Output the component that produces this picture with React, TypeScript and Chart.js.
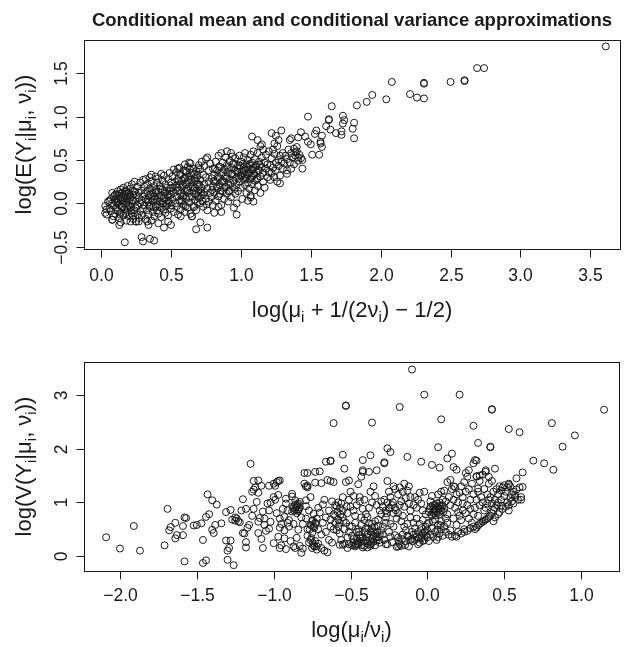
import { useEffect, useRef } from 'react';
import { Chart, registerables } from 'chart.js';

Chart.register(...registerables);

const FONT = '"Liberation Sans", Arial, Helvetica, sans-serif';
const INK = '#1a1a1a';

const TITLE = 'Conditional mean and conditional variance approximations';

const TOP_X_TICKS = [0, 0.5, 1, 1.5, 2, 2.5, 3, 3.5];
const TOP_X_LABELS = ['0.0', '0.5', '1.0', '1.5', '2.0', '2.5', '3.0', '3.5'];
const TOP_Y_TICKS = [-0.5, 0, 0.5, 1, 1.5];
const TOP_Y_LABELS = ['\u22120.5', '0.0', '0.5', '1.0', '1.5'];
const BOT_X_TICKS = [-2, -1.5, -1, -0.5, 0, 0.5, 1];
const BOT_X_LABELS = ['\u22122.0', '\u22121.5', '\u22121.0', '\u22120.5', '0.0', '0.5', '1.0'];
const BOT_Y_TICKS = [0, 1, 2, 3];
const BOT_Y_LABELS = ['0', '1', '2', '3'];

type Seg = [string, boolean?];
const TOP_X_TITLE: Seg[] = [['log(\u03bc'], ['i', true], [' + 1/(2\u03bd'], ['i', true], [') \u2212 1/2)']];
const TOP_Y_TITLE: Seg[] = [['log(E(Y'], ['i', true], ['|\u03bc'], ['i', true], [', \u03bd'], ['i', true], ['))']];
const BOT_X_TITLE: Seg[] = [['log(\u03bc'], ['i', true], ['/\u03bd'], ['i', true], [')']];
const BOT_Y_TITLE: Seg[] = [['log(V(Y'], ['i', true], ['|\u03bc'], ['i', true], [', \u03bd'], ['i', true], ['))']];

// ---------- top panel data: [log(mu + 1/(2nu) - 1/2), log E(Y|mu,nu)] ----------
const TOP_SPARSE: [number, number][] = [
  [3.61, 1.81], [2.69, 1.56], [2.74, 1.56], [2.50, 1.40], [2.60, 1.42], [2.60, 1.41], [2.31, 1.39], [2.31, 1.38],
  [2.08, 1.40], [2.21, 1.26], [2.26, 1.22], [2.31, 1.21], [2.04, 1.20], [1.94, 1.25], [1.90, 1.17], [1.83, 1.13],
  [1.65, 1.12], [1.48, 1.00], [1.63, 0.97], [1.63, 0.96], [1.73, 1.01], [1.74, 0.96], [1.73, 0.92], [1.81, 0.93],
  [1.80, 0.86], [1.81, 0.75], [1.72, 0.79], [1.72, 0.83], [1.68, 0.81], [1.64, 0.85], [1.61, 0.89], [1.54, 0.84],
  [1.53, 0.80], [1.58, 0.78], [1.57, 0.69], [1.58, 0.65], [1.57, 0.71], [1.51, 0.56], [1.56, 0.56], [1.48, 0.71],
  [1.50, 0.68], [1.46, 0.77], [1.43, 0.82], [1.41, 0.76], [1.36, 0.75], [1.35, 0.73], [1.29, 0.84], [1.25, 0.78],
  [1.22, 0.81], [1.24, 0.69], [1.27, 0.73], [1.08, 0.77], [1.12, 0.73], [1.44, 0.40], [1.44, 0.50], [1.41, 0.53],
  [1.40, 0.65], [1.39, 0.59], [1.28, 0.23], [1.33, 0.34], [1.30, 0.40], [1.09, 0.02], [1.07, 0.07], [0.97, -0.13],
  [0.76, -0.28], [0.68, -0.30], [0.71, -0.22], [0.81, -0.11], [0.86, -0.10], [0.84, -0.04], [0.17, -0.45],
  [0.29, -0.39], [0.30, -0.44], [0.35, -0.41], [0.38, -0.43], [0.13, -0.25], [0.08, -0.19], [0.45, -0.28],
  [0.50, -0.25], [0.48, -0.21], [0.21, -0.21], [0.25, -0.21], [0.27, -0.21], [0.34, -0.25], [0.41, -0.23],
  [0.57, -0.15], [0.65, -0.15],
];

const TOP_LOW: [number, number][] = [
  [0.03, -0.03], [0.03, -0.11], [0.04, -0.13], [0.05, 0.02], [0.06, -0.06], [0.07, 0.05], [0.07, -0.09], [0.08, -0.19],
  [0.08, 0.00], [0.09, 0.08], [0.09, -0.03], [0.10, 0.04], [0.10, -0.12], [0.10, 0.10], [0.06, 0.03], [0.04, -0.07],
  [0.09, -0.15], [0.08, 0.12],
  [0.11, -0.05], [0.11, 0.06], [0.12, 0.14], [0.12, -0.09], [0.12, 0.01], [0.13, -0.17], [0.13, 0.09], [0.13, -0.02],
  [0.14, 0.16], [0.14, 0.04], [0.14, -0.11], [0.15, 0.12], [0.15, -0.04], [0.15, 0.07], [0.16, -0.14], [0.16, 0.18],
  [0.16, 0.00], [0.17, 0.10], [0.17, -0.07], [0.17, 0.05], [0.18, -0.20], [0.18, 0.14], [0.18, -0.01], [0.19, 0.08],
  [0.19, -0.10], [0.19, 0.20], [0.20, 0.03], [0.20, -0.15], [0.20, 0.12], [0.14, -0.22],
  [0.21, -0.05], [0.21, 0.17], [0.21, 0.07], [0.22, -0.12], [0.22, 0.00], [0.22, 0.22], [0.23, 0.10], [0.23, -0.18],
  [0.23, 0.04], [0.24, -0.08], [0.24, 0.14], [0.25, 0.02], [0.25, -0.21], [0.25, 0.09], [0.26, -0.03], [0.26, 0.19],
  [0.26, -0.13], [0.27, 0.06], [0.27, 0.12], [0.27, -0.17], [0.28, 0.00], [0.28, 0.24], [0.28, -0.09], [0.29, 0.15],
  [0.29, 0.03], [0.29, -0.14], [0.30, 0.08], [0.30, 0.27], [0.30, -0.06], [0.24, 0.25],
  [0.31, 0.19], [0.31, -0.02], [0.31, 0.11], [0.32, -0.18], [0.32, 0.05], [0.32, 0.28], [0.33, -0.08], [0.33, 0.14],
  [0.33, 0.22], [0.34, 0.01], [0.34, -0.13], [0.34, 0.09], [0.35, 0.30], [0.35, -0.04], [0.35, 0.17], [0.36, 0.06],
  [0.36, -0.20], [0.36, 0.25], [0.37, -0.10], [0.37, 0.12], [0.37, 0.02], [0.38, 0.20], [0.38, -0.15], [0.38, 0.08],
  [0.39, 0.31], [0.39, -0.03], [0.39, 0.15], [0.40, 0.04], [0.40, 0.24], [0.40, -0.08], [0.36, 0.33], [0.33, -0.21],
  [0.41, 0.13], [0.41, -0.12], [0.41, 0.29], [0.42, 0.02], [0.42, 0.20], [0.42, -0.04], [0.43, 0.34], [0.43, 0.09],
  [0.43, -0.16], [0.44, 0.16], [0.44, 0.00], [0.44, 0.26], [0.45, -0.07], [0.45, 0.06], [0.45, 0.32], [0.46, 0.12],
  [0.46, -0.11], [0.46, 0.22], [0.47, 0.03], [0.47, 0.18], [0.47, -0.02], [0.48, 0.28], [0.48, 0.08], [0.48, -0.14],
  [0.49, 0.35], [0.49, 0.14], [0.49, 0.00], [0.50, 0.24], [0.50, -0.06], [0.50, 0.10],
];

const TOP_MID: [number, number][] = [
  [0.51, 0.31], [0.51, 0.05], [0.51, 0.18], [0.52, -0.10], [0.52, 0.39], [0.52, 0.12], [0.53, 0.25], [0.53, 0.00],
  [0.53, 0.20], [0.54, 0.36], [0.54, -0.04], [0.54, 0.08], [0.55, 0.28], [0.55, 0.15], [0.55, -0.13], [0.56, 0.41],
  [0.56, 0.03], [0.56, 0.22], [0.57, 0.11], [0.57, 0.33], [0.57, -0.07], [0.58, 0.18], [0.58, 0.26], [0.58, 0.02],
  [0.59, 0.38], [0.59, 0.09], [0.59, -0.02], [0.60, 0.30], [0.60, 0.14], [0.60, 0.45], [0.60, -0.10], [0.55, 0.40],
  [0.61, 0.22], [0.61, 0.05], [0.61, 0.36], [0.62, -0.05], [0.62, 0.27], [0.62, 0.42], [0.63, 0.12], [0.63, 0.31],
  [0.63, 0.01], [0.64, 0.19], [0.64, 0.46], [0.64, -0.12], [0.65, 0.08], [0.65, 0.35], [0.65, 0.24], [0.66, 0.15],
  [0.66, -0.03], [0.66, 0.40], [0.67, 0.29], [0.67, 0.04], [0.67, 0.18], [0.68, 0.11], [0.68, 0.37], [0.68, -0.08],
  [0.69, 0.22], [0.69, 0.01], [0.69, 0.32], [0.70, 0.14], [0.70, 0.44], [0.70, 0.06], [0.65, -0.15], [0.63, 0.47],
  [0.68, 0.26], [0.62, 0.15],
  [0.71, 0.27], [0.71, 0.00], [0.71, 0.39], [0.72, 0.18], [0.72, 0.09], [0.72, 0.48], [0.73, 0.33], [0.73, -0.04],
  [0.74, 0.22], [0.74, 0.13], [0.74, 0.43], [0.75, 0.05], [0.75, 0.30], [0.75, 0.51], [0.76, 0.17], [0.76, -0.08],
  [0.77, 0.38], [0.77, 0.25], [0.77, 0.02], [0.78, 0.12], [0.78, 0.46], [0.79, 0.29], [0.79, 0.07], [0.80, 0.20],
  [0.80, 0.40], [0.80, -0.02], [0.76, 0.53], [0.73, 0.10],
  [0.81, 0.33], [0.81, 0.12], [0.82, 0.48], [0.82, 0.25], [0.82, 0.03], [0.83, 0.38], [0.83, 0.17], [0.84, 0.55],
  [0.84, 0.29], [0.84, 0.08], [0.85, 0.42], [0.85, 0.21], [0.86, -0.02], [0.86, 0.34], [0.86, 0.58], [0.87, 0.14],
  [0.87, 0.47], [0.87, 0.26], [0.88, 0.05], [0.88, 0.39], [0.89, 0.19], [0.89, 0.53], [0.89, 0.31], [0.90, 0.11],
  [0.90, 0.44], [0.90, 0.60], [0.85, 0.11], [0.88, 0.24],
];

const TOP_HIGH: [number, number][] = [
  [0.91, 0.36], [0.91, 0.22], [0.91, 0.02], [0.92, 0.49], [0.92, 0.28], [0.92, 0.15], [0.93, 0.58], [0.93, 0.41],
  [0.93, 0.07], [0.94, 0.33], [0.94, 0.19], [0.95, 0.46], [0.95, -0.05], [0.95, 0.26], [0.96, 0.38], [0.96, 0.11],
  [0.96, 0.52], [0.97, 0.30], [0.97, 0.21], [0.97, 0.00], [0.98, 0.44], [0.98, 0.35], [0.98, 0.14], [0.99, 0.25],
  [0.99, 0.55], [0.99, 0.40], [1.00, 0.32], [1.00, 0.18], [1.00, 0.48], [0.94, 0.54],
  [1.01, 0.05], [1.01, 0.37], [1.02, 0.27], [1.02, 0.53], [1.02, 0.42], [1.03, 0.21], [1.03, 0.33], [1.03, 0.58],
  [1.04, 0.12], [1.04, 0.45], [1.04, 0.30], [1.05, 0.39], [1.05, 0.24], [1.05, 0.50], [1.06, 0.17], [1.06, 0.35],
  [1.06, 0.44], [1.07, 0.28], [1.07, 0.56], [1.07, 0.09], [1.08, 0.38], [1.08, 0.47], [1.08, 0.22], [1.09, 0.32],
  [1.09, 0.60], [1.09, 0.41], [1.10, 0.26], [1.10, 0.51], [1.10, 0.15], [1.05, 0.03],
  [1.11, 0.36], [1.11, 0.44], [1.12, 0.29], [1.12, 0.58], [1.12, 0.20], [1.13, 0.48], [1.13, 0.38], [1.14, 0.66],
  [1.14, 0.31], [1.14, 0.12], [1.15, 0.53], [1.15, 0.42], [1.16, 0.25], [1.16, 0.62], [1.16, 0.35], [1.17, 0.47],
  [1.17, 0.18], [1.18, 0.40], [1.18, 0.56], [1.19, 0.30], [1.19, 0.45], [1.20, 0.36], [1.20, 0.60], [1.15, 0.68],
  [1.21, 0.44], [1.21, 0.27], [1.22, 0.52], [1.22, 0.35], [1.23, 0.62], [1.23, 0.41], [1.24, 0.30], [1.24, 0.57],
  [1.25, 0.47], [1.25, 0.38], [1.26, 0.66], [1.26, 0.25], [1.27, 0.50], [1.27, 0.43], [1.28, 0.55], [1.28, 0.32],
  [1.29, 0.48], [1.30, 0.58],
  [1.31, 0.46], [1.32, 0.55], [1.33, 0.51], [1.34, 0.62], [1.35, 0.47], [1.36, 0.58], [1.37, 0.53], [1.38, 0.63],
  [1.38, 0.45], [1.39, 0.55], [1.40, 0.60], [1.41, 0.49], [1.42, 0.56], [1.43, 0.52], [1.36, 0.40], [1.33, 0.38],
];

const TOP_CORE: [number, number][] = [
  [0.105, 0.015], [0.115, -0.075], [0.125, 0.045], [0.135, 0.115], [0.145, -0.035], [0.155, 0.025], [0.165, 0.085],
  [0.175, -0.115], [0.185, 0.055], [0.195, -0.025], [0.205, 0.095], [0.215, -0.085], [0.225, 0.035], [0.235, 0.135],
  [0.245, -0.045], [0.112, 0.105], [0.132, -0.125], [0.172, 0.145], [0.228, -0.145], [0.188, -0.055],
  [0.335, 0.035], [0.345, -0.025], [0.355, 0.105], [0.365, 0.155], [0.375, -0.045], [0.385, 0.045], [0.395, 0.125],
  [0.405, -0.015], [0.415, 0.075], [0.425, 0.165], [0.435, -0.055], [0.445, 0.055], [0.455, 0.135], [0.465, -0.035],
  [0.475, 0.095], [0.485, 0.025], [0.495, 0.175], [0.505, -0.025], [0.515, 0.145],
  [0.545, 0.185], [0.555, 0.255], [0.565, 0.335], [0.575, 0.125], [0.585, 0.215], [0.595, 0.285], [0.605, 0.375],
  [0.615, 0.165], [0.625, 0.245], [0.635, 0.395], [0.645, 0.275], [0.655, 0.195], [0.665, 0.335], [0.675, 0.105],
  [0.685, 0.295], [0.695, 0.405], [0.705, 0.215], [0.575, 0.035], [0.605, -0.035], [0.635, 0.065], [0.665, -0.045],
  [0.695, 0.085], [0.725, 0.025], [0.755, -0.015], [0.585, 0.075], [0.715, 0.125],
  [0.795, 0.155], [0.805, 0.255], [0.815, 0.395], [0.825, 0.195], [0.835, 0.305], [0.845, 0.425], [0.855, 0.145],
  [0.865, 0.255], [0.875, 0.355], [0.885, 0.185], [0.895, 0.285], [0.905, 0.405], [0.915, 0.135], [0.925, 0.235],
  [0.935, 0.345], [0.945, 0.455], [0.955, 0.165],
  [0.975, 0.365], [0.985, 0.285], [0.995, 0.435], [1.005, 0.325], [1.015, 0.455], [1.025, 0.375], [1.035, 0.285],
  [1.045, 0.415], [1.055, 0.335], [1.065, 0.455], [1.075, 0.305], [1.085, 0.395], [1.095, 0.345], [1.105, 0.425],
  [1.115, 0.275], [1.125, 0.385], [1.135, 0.445],
];

// ---------- bottom panel data: [log(mu/nu), log V(Y|mu,nu)] ----------
const BOT_LEFT: [number, number][] = [
  [-2.09, 0.35], [-2.00, 0.14], [-1.87, 0.10], [-1.91, 0.56], [-1.71, 0.20], [-1.69, 0.88], [-1.68, 0.48],
  [-1.67, 0.54], [-1.64, 0.33], [-1.64, 0.62], [-1.63, 0.39], [-1.58, 0.72], [-1.57, 0.71], [-1.59, 0.56],
  [-1.59, 0.39], [-1.58, -0.10], [-1.50, 0.58], [-1.52, 0.57], [-1.46, 0.30], [-1.46, -0.13], [-1.44, -0.08],
  [-1.47, 0.61], [-1.44, 0.73], [-1.42, 0.78], [-1.43, 1.15], [-1.40, 1.04], [-1.37, 0.96], [-1.40, 0.49],
  [-1.39, 0.43], [-1.38, 0.58], [-1.34, 0.61], [-1.31, 0.29], [-1.30, 0.10], [-1.30, -0.07], [-1.28, 0.29],
  [-1.29, 0.15], [-1.26, -0.17], [-1.28, 0.86], [-1.31, 0.82], [-1.25, 0.72], [-1.25, 0.66], [-1.22, 0.63],
  [-1.23, 0.65], [-1.21, 0.85], [-1.20, 1.06], [-1.20, 0.43], [-1.18, 0.26], [-1.18, 0.16], [-1.16, 0.58],
  [-1.18, 0.88], [-1.11, 1.01], [-1.12, 1.28], [-1.10, 1.18], [-1.10, 0.64], [-1.09, 0.71], [-1.10, 0.43],
  [-1.08, 0.32], [-1.07, 0.15], [-1.05, 0.47], [-1.03, 0.51], [-1.04, 0.98], [-1.03, 0.85], [-1.02, 0.64],
  [-1.10, 1.41], [-1.15, 1.72], [-1.13, 1.24], [-1.06, 0.58], [-1.27, 0.68], [-1.24, 0.70], [-1.19, 0.42],
  [-1.17, 0.53], [-1.14, 0.75], [-1.13, 0.88], [-1.14, 1.20], [-1.13, 1.40], [-1.08, 1.31], [-1.07, 0.83],
  [-1.06, 0.70], [-1.02, 1.00], [-1.00, 1.35],
];

const BOT_MIDLEFT: [number, number][] = [
  [-0.99, 1.31], [-0.98, 1.38], [-0.97, 1.40], [-1.00, 1.10], [-0.99, 1.05], [-0.97, 1.14], [-0.96, 0.70],
  [-0.96, 0.53], [-0.97, 0.36], [-0.93, 0.73], [-0.93, 0.48], [-0.93, 0.33], [-0.95, 0.20], [-0.96, 0.15],
  [-1.00, 0.24], [-0.92, 0.98], [-0.92, 1.07], [-0.91, 0.62], [-0.94, 0.88], [-0.92, 0.13], [-0.95, 0.60],
  [-0.91, 0.85], [-0.98, 0.80],
  [-0.90, 0.67], [-0.90, 0.55], [-0.88, 0.83], [-0.86, 0.87], [-0.88, 1.16], [-0.86, 1.04], [-0.87, 0.90],
  [-0.85, 0.93], [-0.84, 0.86], [-0.83, 0.91], [-0.86, 0.96], [-0.84, 0.84], [-0.83, 1.01], [-0.88, 1.11],
  [-0.85, 0.34], [-0.84, 0.49], [-0.87, 0.18], [-0.86, 0.15], [-0.83, 0.19], [-0.82, 0.72], [-0.81, 0.60],
  [-0.89, 0.28], [-0.85, 0.80], [-0.82, 0.06], [-0.81, 0.14], [-0.84, 0.98], [-0.87, 0.60],
  [-0.80, 1.55], [-0.80, 1.35], [-0.79, 1.30], [-0.78, 1.31], [-0.78, 1.28], [-0.79, 1.04], [-0.79, 0.93],
  [-0.78, 0.50], [-0.78, 0.38], [-0.77, 0.25], [-0.76, 0.30], [-0.76, 0.58], [-0.75, 0.65], [-0.74, 0.55],
  [-0.74, 0.79], [-0.73, 0.62], [-0.72, 0.70], [-0.75, 0.15], [-0.74, 0.20], [-0.73, 0.28], [-0.72, 0.12],
  [-0.71, 0.90], [-0.73, 1.37], [-0.73, 1.57], [-0.77, 0.85], [-0.71, 0.23], [-0.75, 0.43], [-0.79, 0.70],
  [-0.72, 0.18], [-0.70, 0.81], [-0.76, 1.10], [-0.71, 0.50],
  [-0.69, 1.36], [-0.70, 1.58], [-0.66, 1.76], [-0.65, 1.42], [-0.68, 0.96], [-0.66, 0.72], [-0.63, 0.55],
  [-0.67, 0.10], [-0.65, 0.07], [-0.69, 0.15], [-0.68, 0.62], [-0.66, 0.45], [-0.64, 0.85], [-0.62, 1.02],
  [-0.61, 0.78], [-0.60, 0.62], [-0.64, 0.30], [-0.62, 0.25], [-0.61, 1.38], [-0.60, 0.95], [-0.67, 1.05],
  [-0.63, 0.68], [-0.69, 0.40], [-0.61, 0.50],
];

const BOT_MID: [number, number][] = [
  [-0.59, 0.93], [-0.58, 1.00], [-0.57, 0.90], [-0.56, 0.98], [-0.55, 0.85], [-0.60, 0.75], [-0.58, 0.68],
  [-0.57, 0.62], [-0.55, 0.72], [-0.59, 0.48], [-0.57, 0.42], [-0.54, 0.50], [-0.54, 0.23], [-0.51, 0.22],
  [-0.52, 0.35], [-0.53, 0.62], [-0.51, 1.05], [-0.52, 0.80], [-0.50, 0.92], [-0.50, 1.20], [-0.55, 1.10],
  [-0.56, 0.30], [-0.53, 1.38], [-0.52, 0.15], [-0.58, 0.55], [-0.51, 0.45], [-0.57, 0.21], [-0.55, 0.21],
  [-0.49, 0.20], [-0.48, 0.25], [-0.47, 0.18], [-0.46, 0.33], [-0.45, 0.22], [-0.44, 0.40], [-0.43, 0.28],
  [-0.42, 0.35], [-0.41, 0.19], [-0.49, 0.55], [-0.47, 0.62], [-0.45, 0.50], [-0.43, 0.58], [-0.41, 0.67],
  [-0.48, 0.85], [-0.46, 0.95], [-0.44, 1.02], [-0.42, 0.88], [-0.40, 0.78], [-0.45, 1.34], [-0.44, 1.10],
  [-0.41, 1.05], [-0.48, 1.12], [-0.43, 0.72], [-0.49, 0.38], [-0.46, 0.45], [-0.40, 0.30], [-0.42, 0.16],
  [-0.47, 0.75], [-0.40, 0.52], [-0.43, 1.48], [-0.42, 1.60], [-0.45, 0.27], [-0.48, 0.32], [-0.46, 0.21],
  [-0.47, 0.21],
  [-0.39, 0.73], [-0.38, 0.61], [-0.37, 0.46], [-0.36, 0.52], [-0.35, 0.38], [-0.34, 0.42], [-0.33, 0.30],
  [-0.32, 0.35], [-0.31, 0.25], [-0.39, 0.24], [-0.37, 0.22], [-0.35, 0.27], [-0.36, 0.60], [-0.34, 0.65],
  [-0.32, 0.56], [-0.30, 0.48], [-0.38, 0.90], [-0.36, 1.00], [-0.34, 1.12], [-0.33, 0.95], [-0.31, 0.85],
  [-0.38, 1.57], [-0.33, 1.60], [-0.30, 0.78], [-0.37, 1.20], [-0.35, 1.30], [-0.32, 0.68], [-0.39, 0.40],
  [-0.31, 0.40], [-0.36, 0.33], [-0.34, 0.20], [-0.30, 1.02], [-0.39, 0.16], [-0.37, 0.19],
  [-0.29, 0.92], [-0.28, 1.05], [-0.27, 0.85], [-0.26, 1.00], [-0.25, 0.88], [-0.24, 1.10], [-0.23, 0.95],
  [-0.22, 0.80], [-0.21, 1.25], [-0.29, 0.55], [-0.27, 0.62], [-0.25, 0.45], [-0.24, 0.36], [-0.22, 0.55],
  [-0.21, 0.39], [-0.20, 0.17], [-0.28, 0.30], [-0.26, 0.22], [-0.23, 0.26], [-0.20, 0.70], [-0.28, 1.75],
  [-0.22, 1.30], [-0.25, 1.20], [-0.29, 0.40], [-0.21, 0.90], [-0.27, 0.72], [-0.24, 0.60], [-0.26, 1.40],
  [-0.27, 0.22],
  [-0.19, 1.15], [-0.18, 1.28], [-0.17, 1.02], [-0.16, 1.20], [-0.15, 0.92], [-0.14, 1.08], [-0.13, 1.22],
  [-0.12, 0.98], [-0.11, 0.85], [-0.19, 0.80], [-0.17, 0.65], [-0.15, 0.55], [-0.13, 0.60], [-0.11, 0.72],
  [-0.19, 0.35], [-0.18, 0.22], [-0.16, 0.40], [-0.14, 0.28], [-0.13, 0.38], [-0.12, 0.18], [-0.10, 0.45],
  [-0.18, 0.95], [-0.15, 1.35], [-0.12, 1.30], [-0.10, 0.32], [-0.16, 0.75], [-0.11, 1.10], [-0.14, 0.48],
  [-0.19, 0.18], [-0.17, 0.19], [-0.11, 0.30],
  [-0.09, 0.95], [-0.08, 1.10], [-0.07, 0.90], [-0.06, 1.05], [-0.05, 1.18], [-0.04, 0.98], [-0.03, 0.85],
  [-0.02, 1.20], [-0.01, 0.78], [-0.09, 0.62], [-0.07, 0.70], [-0.05, 0.60], [-0.03, 0.67], [-0.01, 0.55],
  [-0.09, 0.40], [-0.08, 0.30], [-0.07, 0.36], [-0.06, 0.45], [-0.05, 0.25], [-0.04, 0.33], [-0.03, 0.42],
  [-0.02, 0.30], [-0.01, 0.38], [0.00, 0.48], [-0.08, 0.52], [-0.04, 0.52], [0.00, 0.60], [-0.06, 0.22],
  [-0.02, 0.45], [0.00, 0.35], [-0.03, 0.28],
];

const BOT_RIGHT: [number, number][] = [
  [0.01, 0.82], [0.02, 0.92], [0.03, 0.75], [0.04, 0.88], [0.05, 0.95], [0.06, 0.83], [0.07, 0.90], [0.08, 1.00],
  [0.09, 0.85], [0.10, 0.93], [0.02, 1.02], [0.04, 0.80], [0.06, 0.98], [0.08, 0.78], [0.10, 1.05], [0.03, 0.52],
  [0.05, 0.45], [0.07, 0.58], [0.09, 0.50], [0.02, 0.40], [0.04, 0.36], [0.06, 0.30], [0.08, 0.42], [0.10, 0.38],
  [0.01, 0.62], [0.05, 0.68], [0.09, 0.65], [0.03, 1.12], [0.07, 1.15], [0.09, 1.20], [0.01, 0.28], [0.07, 0.35],
  [0.05, 0.88], [0.08, 0.93],
  [0.11, 0.88], [0.12, 1.02], [0.13, 0.78], [0.14, 1.10], [0.15, 0.95], [0.16, 1.25], [0.17, 1.05], [0.18, 1.29],
  [0.19, 1.15], [0.20, 1.00], [0.11, 0.55], [0.13, 0.62], [0.15, 0.48], [0.17, 0.70], [0.19, 0.58], [0.12, 0.45],
  [0.14, 0.40], [0.16, 0.36], [0.18, 0.38], [0.19, 0.36], [0.20, 0.45], [0.11, 1.22], [0.13, 1.38], [0.15, 1.42],
  [0.17, 1.30], [0.20, 0.82], [0.12, 0.70], [0.18, 0.90],
  [0.21, 1.18], [0.22, 1.30], [0.23, 1.10], [0.24, 1.38], [0.25, 1.20], [0.26, 1.48], [0.27, 1.25], [0.28, 1.05],
  [0.29, 1.35], [0.30, 1.15], [0.21, 0.75], [0.22, 0.67], [0.23, 0.85], [0.24, 0.50], [0.25, 0.80], [0.26, 0.95],
  [0.27, 0.70], [0.28, 0.88], [0.29, 0.62], [0.30, 0.78], [0.22, 0.42], [0.24, 0.45], [0.26, 0.47], [0.28, 0.52],
  [0.30, 0.55], [0.25, 1.55], [0.27, 1.60], [0.23, 0.98],
  [0.31, 0.50], [0.32, 0.53], [0.33, 0.57], [0.34, 0.60], [0.35, 0.62], [0.36, 0.64], [0.37, 0.66], [0.38, 0.68],
  [0.39, 0.70], [0.40, 0.73], [0.31, 0.90], [0.32, 1.05], [0.33, 1.20], [0.34, 0.95], [0.35, 1.10], [0.36, 1.00],
  [0.37, 1.25], [0.38, 0.90], [0.39, 1.15], [0.40, 1.05], [0.32, 1.48], [0.34, 1.40], [0.36, 1.52], [0.38, 1.60],
  [0.40, 1.35], [0.33, 0.75], [0.37, 0.85], [0.39, 0.98], [0.34, 1.50], [0.33, 1.26],
  [0.41, 0.75], [0.42, 0.80], [0.43, 0.86], [0.44, 0.90], [0.45, 0.95], [0.46, 1.00], [0.47, 0.82], [0.48, 1.05],
  [0.49, 0.88], [0.50, 1.12], [0.41, 1.10], [0.42, 0.98], [0.43, 1.20], [0.44, 1.05], [0.45, 1.25], [0.46, 1.15],
  [0.47, 1.30], [0.48, 1.22], [0.49, 1.28], [0.50, 1.32], [0.42, 1.40], [0.44, 0.72], [0.46, 0.78], [0.48, 0.94],
  [0.43, 0.65],
  [0.51, 1.20], [0.52, 1.28], [0.53, 1.33], [0.54, 1.30], [0.55, 1.15], [0.56, 1.20], [0.57, 1.10], [0.58, 1.24],
  [0.59, 1.05], [0.60, 1.28], [0.51, 0.92], [0.52, 1.00], [0.53, 0.95], [0.54, 1.08], [0.55, 1.02], [0.56, 0.98],
  [0.57, 1.14], [0.61, 1.10], [0.61, 1.05], [0.62, 1.29], [0.62, 1.56], [0.58, 1.45], [0.53, 0.85],
];

const BOT_CORE: [number, number][] = [
  [-0.455, 0.245], [-0.435, 0.325], [-0.415, 0.265], [-0.395, 0.355], [-0.375, 0.295], [-0.355, 0.455],
  [-0.335, 0.365], [-0.315, 0.295], [-0.445, 0.455], [-0.425, 0.205], [-0.405, 0.445], [-0.385, 0.515],
  [-0.365, 0.245], [-0.345, 0.545], [-0.325, 0.445],
  [0.015, 0.875], [0.025, 0.775], [0.035, 0.945], [0.045, 0.835], [0.055, 0.765], [0.065, 0.925], [0.075, 0.815],
  [0.085, 0.885], [0.095, 0.955], [0.105, 0.825], [0.035, 0.645], [0.065, 0.495], [0.085, 0.575],
  [-0.875, 0.925], [-0.865, 0.845], [-0.855, 0.905], [-0.845, 0.955], [-0.835, 0.875], [-0.755, 0.575],
  [-0.745, 0.665], [-0.735, 0.525], [-0.725, 0.605], [-0.765, 0.495], [-0.745, 0.245], [-0.755, 0.335],
  [-0.735, 0.175],
  [-0.245, 0.905], [-0.225, 1.005], [-0.205, 0.855], [-0.265, 0.795], [-0.185, 0.265], [-0.165, 0.315],
  [-0.145, 0.205], [-0.125, 0.355], [-0.095, 0.275], [-0.075, 0.405], [-0.055, 0.335], [-0.035, 0.375],
  [-0.015, 0.455],
  [-0.585, 0.825], [-0.565, 0.775], [-0.545, 0.655], [-0.525, 0.925], [-0.505, 0.555],
];

const BOT_SPARSE: [number, number][] = [
  [-0.10, 3.48], [-0.02, 3.01], [0.21, 3.01], [-0.53, 2.80], [-0.53, 2.81], [-0.18, 2.78], [1.15, 2.73], [0.42, 2.74],
  [0.42, 2.73], [-0.61, 2.48], [-0.36, 2.49], [0.09, 2.55], [0.30, 2.43], [0.81, 2.48], [0.53, 2.37], [0.60, 2.31],
  [0.96, 2.25], [0.88, 2.04], [0.07, 2.03], [0.41, 2.04], [0.41, 2.03], [0.33, 2.11], [-0.26, 2.01], [-0.24, 1.94],
  [-0.55, 1.89], [-0.37, 1.88], [-0.13, 1.85], [0.13, 1.82], [0.16, 1.91], [-0.63, 1.78], [-0.63, 1.77],
  [-0.42, 1.79], [-0.04, 1.76], [0.32, 1.78], [0.30, 1.73], [0.69, 1.78], [0.76, 1.73], [0.82, 1.61], [-0.28, 1.73],
  [0.03, 1.70], [0.08, 1.65], [-0.54, 1.63], [0.44, 1.63], [0.19, 1.61], [0.17, 1.66], [0.38, 1.57], [-0.78, 1.55],
  [-0.42, 1.57], [-0.51, 1.41], [-0.63, 1.40], [-0.96, 1.41], [-1.03, 1.31], [0.40, 1.48], [0.32, 1.49],
  [0.53, 1.35], [0.31, 1.79],
];

const TOP_RANGE = { xMin: -0.122, xMax: 3.712, yMin: -0.527, yMax: 1.884 };
const BOT_RANGE = { xMin: -2.234, xMax: 1.247, yMin: -0.279, yMax: 3.62 };

function segFont(size: number, sub?: boolean) {
  return `${sub ? size * 0.7 : size}px ${FONT}`;
}

function drawRich(ctx: CanvasRenderingContext2D, segs: Seg[], size: number, x: number, y: number, rotate: boolean) {
  ctx.save();
  ctx.translate(x, y);
  if (rotate) ctx.rotate(-Math.PI / 2);
  let w = 0;
  for (const [t, sub] of segs) {
    ctx.font = segFont(size, sub);
    w += ctx.measureText(t).width;
  }
  let cx = -w / 2;
  ctx.textAlign = 'left';
  ctx.textBaseline = 'alphabetic';
  for (const [t, sub] of segs) {
    ctx.font = segFont(size, sub);
    ctx.fillText(t, cx, sub ? size * 0.22 : 0);
    cx += ctx.measureText(t).width;
  }
  ctx.restore();
}

type PanelCfg = {
  xTicks: number[];
  xLabels: string[];
  yTicks: number[];
  yLabels: string[];
  xTitle: Seg[];
  yTitle: Seg[];
  xLabelBaseline: number;
  yLabelBaseline: number;
  xTitleBaseline: number;
  yTitleBaseline: number;
  title?: string;
};

const TICK_LEN = 8;
const TICK_FONT = 17.5;
const AXIS_TITLE_FONT = 22;

function makeAxesPlugin(cfg: PanelCfg) {
  return {
    id: 'rAxes',
    afterDraw(chart: any) {
      const { ctx, chartArea: a, scales } = chart;
      const xs = scales.x;
      const ys = scales.y;
      ctx.save();
      ctx.strokeStyle = INK;
      ctx.fillStyle = INK;
      ctx.lineWidth = 1;
      const L = Math.round(a.left) + 0.5;
      const R = Math.round(a.right) + 0.5;
      const T = Math.round(a.top) + 0.5;
      const B = Math.round(a.bottom) + 0.5;
      ctx.strokeRect(L, T, R - L, B - T);

      ctx.font = `${TICK_FONT}px ${FONT}`;
      ctx.textAlign = 'center';
      ctx.textBaseline = 'alphabetic';
      cfg.xTicks.forEach((v, i) => {
        const px = Math.round(xs.getPixelForValue(v)) + 0.5;
        ctx.beginPath();
        ctx.moveTo(px, B);
        ctx.lineTo(px, B + TICK_LEN);
        ctx.stroke();
        ctx.fillText(cfg.xLabels[i], px, cfg.xLabelBaseline);
      });
      cfg.yTicks.forEach((v, i) => {
        const py = Math.round(ys.getPixelForValue(v)) + 0.5;
        ctx.beginPath();
        ctx.moveTo(L - TICK_LEN, py);
        ctx.lineTo(L, py);
        ctx.stroke();
        ctx.save();
        ctx.translate(cfg.yLabelBaseline, py);
        ctx.rotate(-Math.PI / 2);
        ctx.fillText(cfg.yLabels[i], 0, 0);
        ctx.restore();
      });

      const cxMid = (a.left + a.right) / 2;
      const cyMid = (a.top + a.bottom) / 2;
      drawRich(ctx, cfg.xTitle, AXIS_TITLE_FONT, cxMid, cfg.xTitleBaseline, false);
      drawRich(ctx, cfg.yTitle, AXIS_TITLE_FONT, cfg.yTitleBaseline, cyMid, true);

      if (cfg.title) {
        ctx.font = `bold 18.5px ${FONT}`;
        ctx.textAlign = 'center';
        ctx.fillText(cfg.title, cxMid, 26);
      }
      ctx.restore();
    },
  };
}

function makeConfig(series: [number, number][][], range: typeof TOP_RANGE, padding: any, cfg: PanelCfg) {
  return {
    type: 'scatter' as const,
    data: {
      datasets: series.map((s) => ({
        data: s.map(([x, y]) => ({ x, y })),
        pointRadius: 3.5,
        pointHoverRadius: 3.5,
        pointBorderWidth: 1,
        borderColor: INK,
        backgroundColor: 'rgba(0,0,0,0)',
        pointBackgroundColor: 'rgba(0,0,0,0)',
        pointBorderColor: INK,
        clip: false as any,
      })),
    },
    options: {
      responsive: false,
      maintainAspectRatio: false,
      animation: false as const,
      events: [],
      layout: { padding },
      plugins: { legend: { display: false }, tooltip: { enabled: false }, title: { display: false } },
      scales: {
        x: { type: 'linear' as const, display: false, min: range.xMin, max: range.xMax },
        y: { type: 'linear' as const, display: false, min: range.yMin, max: range.yMax },
      },
    },
    plugins: [makeAxesPlugin(cfg)],
  };
}

export default function App() {
  const topRef = useRef<HTMLCanvasElement>(null);
  const botRef = useRef<HTMLCanvasElement>(null);

  useEffect(() => {
    const top = new Chart(
      topRef.current!,
      makeConfig(
        [TOP_LOW, TOP_MID, TOP_HIGH, TOP_CORE, TOP_SPARSE],
        TOP_RANGE,
        { left: 84, right: 9, top: 40, bottom: 647 - 249 },
        {
          xTicks: TOP_X_TICKS,
          xLabels: TOP_X_LABELS,
          yTicks: TOP_Y_TICKS,
          yLabels: TOP_Y_LABELS,
          xTitle: TOP_X_TITLE,
          yTitle: TOP_Y_TITLE,
          xLabelBaseline: 281,
          yLabelBaseline: 67,
          xTitleBaseline: 317,
          yTitleBaseline: 31,
          title: TITLE,
        }
      ) as any
    );
    const bot = new Chart(
      botRef.current!,
      makeConfig(
        [BOT_LEFT, BOT_MIDLEFT, BOT_MID, BOT_RIGHT, BOT_CORE, BOT_SPARSE],
        BOT_RANGE,
        { left: 84, right: 10, top: 362, bottom: 647 - 571 },
        {
          xTicks: BOT_X_TICKS,
          xLabels: BOT_X_LABELS,
          yTicks: BOT_Y_TICKS,
          yLabels: BOT_Y_LABELS,
          xTitle: BOT_X_TITLE,
          yTitle: BOT_Y_TITLE,
          xLabelBaseline: 601,
          yLabelBaseline: 67,
          xTitleBaseline: 637,
          yTitleBaseline: 31,
        }
      ) as any
    );
    return () => {
      top.destroy();
      bot.destroy();
    };
  }, []);

  const canvasStyle: React.CSSProperties = { position: 'absolute', left: 0, top: 0, width: 629, height: 647 };
  return (
    <div style={{ position: 'fixed', left: 0, top: 0, width: 629, height: 647, background: '#fff' }}>
      <canvas ref={topRef} width={629} height={647} style={canvasStyle} />
      <canvas ref={botRef} width={629} height={647} style={canvasStyle} />
    </div>
  );
}
